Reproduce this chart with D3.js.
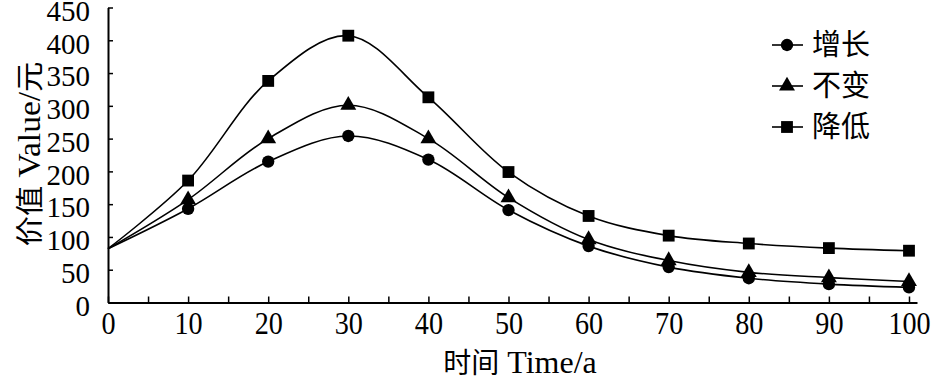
<!DOCTYPE html>
<meta charset="utf-8">
<style>
  body { margin: 0; background: #fff; }
  text { fill: #000; }
</style>
<svg width="937" height="383"></svg>
<script src="https://d3js.org/d3.v7.min.js"></script>
<script>

// data
var years = [0, 10, 20, 30, 40, 50, 60, 70, 80, 90, 100];
var names = ["增长", "不变", "降低"];
var growth   = [82, 143, 215, 254, 218, 141, 86, 54, 37, 28, 23];
var constant = [82, 157, 250, 301, 250, 160, 96, 64, 46, 38, 32];
var decrease = [82, 186, 338, 407, 313, 199, 132, 102, 90, 83, 79];
var yTicks = [0, 50, 100, 150, 200, 250, 300, 350, 400, 450];
var xTicks = d3.range(0, 101, 5);

var svg = d3.select("svg");
var serif = "'Liberation Serif', 'Times New Roman', serif";
var cjk = "'Noto Sans CJK SC', sans-serif";

var x = d3.scaleLinear().domain([0, 101]).range([108, 917]);
var y = d3.scaleLinear().domain([0, 450]).range([302.5, 7.5]);

var series = [
  {name: names[0], values: growth,   shape: d3.symbolCircle,   size: 120},
  {name: names[1], values: constant, shape: d3.symbolTriangle, size: 110},
  {name: names[2], values: decrease, shape: d3.symbolSquare,   size: 140}
];

// axes
var xAxis = svg.append("g")
    .attr("transform", "translate(0," + y(0) + ")")
    .call(d3.axisBottom(x).tickValues(xTicks).tickSize(-6).tickSizeOuter(0).tickPadding(9)
      .tickFormat(function(d) { return d % 10 === 0 ? d : ""; }));
xAxis.selectAll("text")
    .attr("transform", "scale(0.88,1)")
    .style("font", "32px " + serif);

var yAxis = svg.append("g")
    .attr("transform", "translate(" + x(0) + ",0)")
    .call(d3.axisLeft(y).tickValues(yTicks).tickSize(-5).tickSizeOuter(0).tickPadding(18));
yAxis.selectAll("text")
    .attr("dy", "0.44em")
    .style("font", "29px " + serif);

svg.selectAll(".domain").attr("stroke", "#000").attr("stroke-width", 2);
svg.selectAll(".tick line").attr("stroke", "#000").attr("stroke-width", 1.5);

// curves
var line = d3.line()
    .x(function(d, i) { return x(years[i]); })
    .y(function(d) { return y(d); })
    .curve(d3.curveCatmullRom.alpha(0.5));

svg.selectAll(".curve")
  .data(series)
  .enter().append("path")
    .attr("class", "curve")
    .attr("d", function(s) { return line(s.values); })
    .attr("fill", "none")
    .attr("stroke", "#000")
    .attr("stroke-width", 1.6);

// markers (no marker at year 0)
series.forEach(function(s) {
  svg.selectAll(null)
    .data(s.values.slice(1))
    .enter().append("path")
      .attr("transform", function(d, i) { return "translate(" + x(years[i + 1]) + "," + y(d) + ")"; })
      .attr("d", d3.symbol().type(s.shape).size(s.size))
      .attr("fill", "#000");
});

// axis titles, mixed CJK / Latin runs
function title(g, parts) {
  var t = g.append("text").attr("text-anchor", "middle");
  parts.forEach(function(p) {
    t.append("tspan").style("font", p[1]).text(p[0]);
  });
  return t;
}

title(svg.append("g").attr("transform", "translate(40,154) rotate(-90) scale(1.08,1)"),
  [["价值", "28px " + cjk], [" Value/", "31px " + serif], ["元", "28px " + cjk]]);

title(svg.append("g").attr("transform", "translate(520,373)"),
  [["时间", "28px " + cjk], [" Time/a", "32px " + serif]]);

// legend
var legend = svg.selectAll(".legend")
  .data(series)
  .enter().append("g")
    .attr("class", "legend")
    .attr("transform", function(d, i) { return "translate(787," + (45 + i * 41) + ")"; });

legend.append("line")
    .attr("x1", -15).attr("x2", 16)
    .attr("stroke", "#000").attr("stroke-width", 1.6);
legend.append("path")
    .attr("d", function(s) { return d3.symbol().type(s.shape).size(s.size)(); })
    .attr("fill", "#000");
legend.append("text")
    .attr("x", 25)
    .attr("dy", "0.36em")
    .style("font", "29px " + cjk)
    .text(function(s) { return s.name; });

</script>
